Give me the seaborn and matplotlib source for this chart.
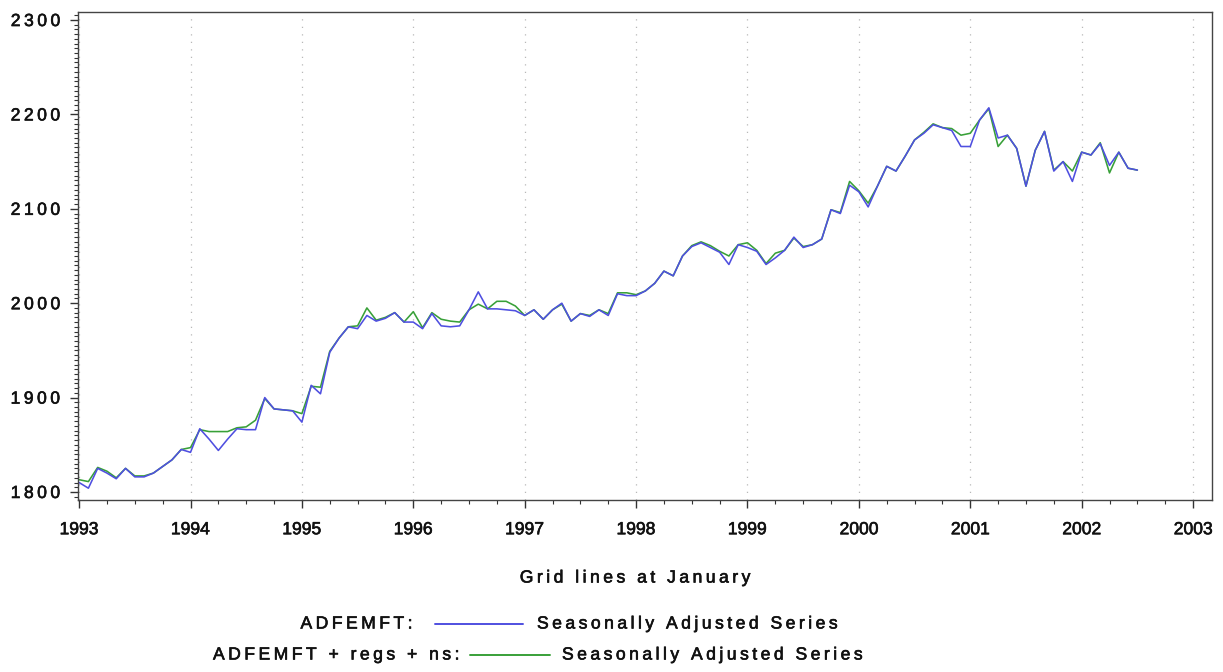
import numpy as np
import pandas as pd
import matplotlib
matplotlib.use("Agg")
import matplotlib.pyplot as plt
import matplotlib.patheffects as pe
from matplotlib.lines import Line2D
from matplotlib.ticker import MultipleLocator
import seaborn as sns

# Monthly series, Jan 1993 - Jul 2002
START_YEAR = 1993
adfemft = [
    1810, 1804, 1825, 1820, 1814, 1825, 1816, 1816, 1820, 1827, 1834, 1845,
    1842, 1867, 1856, 1844, 1856, 1867, 1866, 1866, 1900, 1888, 1887, 1886,
    1874, 1913, 1904, 1948, 1963, 1975, 1973, 1987, 1981, 1984, 1990, 1980,
    1980, 1973, 1989, 1976, 1975, 1976, 1993, 2012, 1994, 1994, 1993, 1992,
    1987, 1993, 1983, 1993, 2000, 1981, 1989, 1986, 1993, 1987, 2010, 2008,
    2008, 2013, 2021, 2034, 2029, 2050, 2060, 2064, 2059, 2054, 2041, 2062,
    2059, 2055, 2041, 2048, 2056, 2070, 2059, 2062, 2068, 2099, 2095, 2125,
    2118, 2102, 2124, 2145, 2140, 2156, 2173, 2180, 2189, 2186, 2183, 2166,
    2166, 2194, 2207, 2175, 2178, 2164, 2124, 2162, 2182, 2140, 2150, 2129,
    2160, 2157, 2169, 2146, 2160, 2143, 2141,
]
adfemft_regs = [
    1813, 1811, 1826, 1822, 1815, 1825, 1817, 1817, 1820, 1827, 1834, 1845,
    1847, 1866, 1864, 1864, 1864, 1868, 1869, 1876, 1899, 1888, 1887, 1886,
    1883, 1912, 1911, 1949, 1963, 1975, 1976, 1995, 1982, 1985, 1990, 1980,
    1991, 1974, 1990, 1983, 1981, 1980, 1993, 1999, 1994, 2002, 2002, 1997,
    1987, 1993, 1983, 1993, 1999, 1981, 1989, 1987, 1993, 1989, 2011, 2011,
    2009, 2013, 2021, 2034, 2029, 2050, 2061, 2065, 2061, 2055, 2050, 2062,
    2064, 2056, 2042, 2053, 2056, 2069, 2060, 2062, 2068, 2099, 2096, 2129,
    2119, 2106, 2124, 2145, 2140, 2156, 2173, 2181, 2190, 2186, 2185, 2178,
    2180, 2194, 2206, 2166, 2178, 2164, 2124, 2162, 2182, 2141, 2150, 2140,
    2160, 2157, 2170, 2138, 2160, 2143, 2141,
]
series_names = ["ADFEMFT:", "ADFEMFT + regs + ns:"]
series_desc = "Seasonally Adjusted Series"
year_ticks = list(range(1993, 2004))
y_ticks = [1800, 1900, 2000, 2100, 2200, 2300]
x_title = "Grid lines at January"

BLUE = "#4f4fe0"
GREEN = "#38a038"
FS = 12.6
HEAVY = [pe.withStroke(linewidth=0.45, foreground="#111111")]


def spaced(s):
    """Loose letter tracking: a thin space between every character."""
    return "\u2009".join(s)


t = START_YEAR + np.arange(len(adfemft)) / 12.0
df = pd.DataFrame({
    "t": np.concatenate([t, t]),
    "value": adfemft + adfemft_regs,
    "series": [series_names[0]] * len(adfemft) + [series_names[1]] * len(adfemft_regs),
})

sns.set_style("white")
plt.rcParams["font.family"] = ["Liberation Sans", "DejaVu Sans"]

W, H = 1223, 672
fig = plt.figure(figsize=(W / 100, H / 100), dpi=100)
ax = fig.add_axes([78 / W, 1 - 500 / H, (1212 - 78) / W, (500 - 12) / H])

# January grid lines
for yr in year_ticks:
    ax.axvline(yr, color="#b8b8b8", lw=0.9, ls=(0, (1, 5)), zorder=0)

sns.lineplot(data=df, x="t", y="value", hue="series",
             palette={series_names[0]: BLUE, series_names[1]: GREEN},
             hue_order=[series_names[1], series_names[0]],
             lw=1.15, ax=ax, legend=False)

ax.set_xlim(1992.99, 2003.17)
ax.set_ylim(1791.5, 2308.5)
ax.set_xticks(year_ticks)
ax.set_xticklabels([str(y) for y in year_ticks])
ax.xaxis.set_minor_locator(MultipleLocator(0.25))
ax.set_yticks(y_ticks)
ax.set_yticklabels([spaced(str(v)) for v in y_ticks])
ax.yaxis.set_minor_locator(MultipleLocator(5))
ax.tick_params(axis="both", which="major", direction="out", length=6, width=1,
               color="#333333", labelsize=FS, labelcolor="#111111")
ax.tick_params(axis="both", which="minor", direction="out", length=3, width=0.8,
               color="#333333")
ax.tick_params(axis="x", which="major", pad=10)
ax.tick_params(axis="y", which="major", pad=7)
ax.tick_params(bottom=True, left=True, which="both")
for lab in ax.get_xticklabels() + ax.get_yticklabels():
    lab.set_path_effects(HEAVY)
for s in ax.spines.values():
    s.set_visible(True)
    s.set_color("#444444")
    s.set_linewidth(1.0)
ax.set_xlabel("")
ax.set_ylabel("")

fig.text(635 / W, 1 - 578 / H, spaced(x_title), ha="center", va="center",
         fontsize=FS, color="#111111", path_effects=HEAVY)

# Legend rows: label, sample line, description
rows = [
    (series_names[0], BLUE, 624, 412, 435, 523, 537),
    (series_names[1], GREEN, 655, 459, 470, 550, 562),
]
for name, col, yp, lab_r, l0, l1, txt_l in rows:
    yf = 1 - yp / H
    fig.text(lab_r / W, yf, spaced(name), ha="right", va="center", fontsize=FS,
             color="#111111", path_effects=HEAVY)
    fig.add_artist(Line2D([l0 / W, l1 / W], [yf, yf], color=col, lw=1.4,
                          transform=fig.transFigure))
    fig.text(txt_l / W, yf, spaced(series_desc), ha="left", va="center", fontsize=FS,
             color="#111111", path_effects=HEAVY)

fig.savefig("out.png", dpi=100)
